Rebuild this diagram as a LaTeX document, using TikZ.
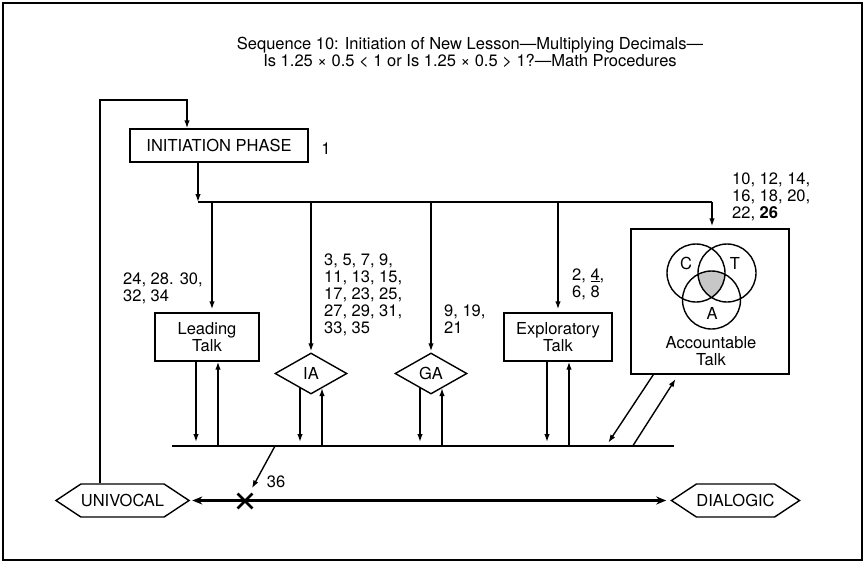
\documentclass[tikz,border=0pt]{standalone}
\usepackage{fontspec}
\setmainfont{TeX Gyre Heros}
\usetikzlibrary{shapes.geometric,shapes.symbols,shapes.misc,arrows.meta,calc}
\begin{document}
\begin{tikzpicture}[x=1pt,y=-1pt,
  every node/.style={font=\fontsize{16.5}{17}\selectfont},
  lw/.style={line width=1.4pt},
  arr/.style={lw,-{Latex[length=8pt,width=5.5pt]}},
  boxnode/.style={draw,lw,rectangle,inner sep=0pt,align=center},
  dia/.style={draw,lw,diamond,inner sep=0pt,minimum width=72pt,minimum height=41pt,aspect=1.75},
  hexa/.style={draw,lw,signal,signal to=west and east,signal pointer angle=67,inner xsep=0pt,inner ysep=0pt,minimum height=33pt},
  lbl/.style={inner sep=0pt,align=left,anchor=west},
  plain/.style={inner sep=0pt},
]
\useasboundingbox (0,0) rectangle (865,563);
\draw[line width=1.3pt] (3,3) rectangle (862,560);

% title
\node[plain,align=center,font=\fontsize{16.5}{14}\selectfont] (title) at (470,52)
  {Sequence 10: Initiation of New Lesson—Multiplying Decimals—\\Is 1.25 × 0.5 < 1 or Is 1.25 × 0.5 > 1?—Math Procedures};

% nodes
\node[boxnode,minimum width=178pt,minimum height=33pt] (init) at (219,145.5) {INITIATION PHASE};
\node[plain] (one) at (326,149) {1};
\node[boxnode,minimum width=104pt,minimum height=48pt] (lead) at (207,337) {Leading\\Talk};
\node[boxnode,minimum width=108pt,minimum height=48pt] (expl) at (558,337) {Exploratory\\Talk};
\node[dia] (ia) at (311,373.5) {IA};
\node[dia] (ga) at (431,373.5) {GA};
\node[boxnode,minimum width=158pt,minimum height=145pt] (acc) at (710,301.5) {};
\node[plain,align=center] (acctext) at (711,351) {Accountable\\Talk};
\node[hexa] (uni) at (122.5,500.5) {UNIVOCAL};
\node[hexa] (dia) at (735.5,500.5) {DIALOGIC};

% venn
\begin{scope}
  \clip (696,273) circle (29pt);
  \clip (727,273) circle (29pt);
  \fill[black!22] (711.5,300) circle (29pt);
\end{scope}
\draw[lw] (696,273) circle (29pt) (727,273) circle (29pt) (711.5,300) circle (29pt);
\node[plain] (vc) at (686,263) {C};
\node[plain] (vt) at (735,263) {T};
\node[plain] (va) at (712,313) {A};

% labels
\node[lbl] (l24) at (123,288.5) {24, 28. 30,\\32, 34};
\node[lbl] (l3) at (324,294.5) {3, 5, 7, 9,\\11, 13, 15,\\17, 23, 25,\\27, 29, 31,\\33, 35};
\node[lbl] (l9) at (444,319.5) {9, 19,\\21};
\node[lbl] (l2) at (572,284) {2, \underline{4},\\6, 8};
\node[lbl] (l10) at (732,197) {10, 12, 14,\\16, 18, 20,\\22, \textbf{26}};
\node[plain] (l36) at (276,482) {36};

% loop
\coordinate (loopx) at (100,100);
\coordinate (lc) at (187,100);
\draw[arr] (uni.north -| loopx) -- (loopx) -- (lc) -- (lc |- init.north);

% distribution line
\coordinate (hl) at (198,202);
\coordinate (hr) at (712,202);
\draw[arr] (init.south -| hl) -- (hl);
\draw[lw] (hl) -- (hr);
\draw[arr,shorten >=2pt] (hr) -- (hr |- acc.north);
\coordinate (ldrop) at ($(lead.north)+(5,0)$);
\draw[arr,shorten >=3pt] (ldrop |- hl) -- (ldrop);
\draw[arr,shorten >=1pt] (ia.north |- hl) -- (ia.north);
\draw[arr,shorten >=1pt] (ga.north |- hl) -- (ga.north);
\draw[arr,shorten >=3pt] (expl.north |- hl) -- (expl.north);

% bottom line
\coordinate (bl) at (172,446);
\coordinate (br) at (674,446);
\draw[lw] (bl) -- (br);
\coordinate (ld) at ($(lead.south)+(-11,0)$);
\coordinate (lu) at ($(lead.south)+(11,0)$);
\draw[arr,shorten >=4pt] (ld) -- (ld |- bl);
\draw[arr] (lu |- bl) -- (lu);
\coordinate (iad) at ($(ia.center)+(-11,0)$);
\coordinate (iau) at ($(ia.center)+(11,0)$);
\draw[arr,shorten >=4pt] (iad |- ia.232) -- (iad |- bl);
\draw[arr] (iau |- bl) -- (iau |- ia.308);
\coordinate (gad) at ($(ga.center)+(-11,0)$);
\coordinate (gau) at ($(ga.center)+(11,0)$);
\draw[arr,shorten >=4pt] (gad |- ga.232) -- (gad |- bl);
\draw[arr] (gau |- bl) -- (gau |- ga.308);
\coordinate (ed) at ($(expl.south)+(-11,0)$);
\coordinate (eu) at ($(expl.south)+(11,0)$);
\draw[arr,shorten >=4pt] (ed) -- (ed |- bl);
\draw[arr] (eu |- bl) -- (eu);
\coordinate (a1) at ($(acc.south west)+(23,0)$);
\coordinate (a2) at ($(acc.south west)+(48,0)$);
\draw[arr] (a1) -- ($(a1)+(-45,68)$);
\draw[arr,shorten >=5pt] ($(a2)+(-46,72)$) -- (a2);

% continuum
\draw[line width=2.6pt,{Stealth[length=10pt,width=8pt]}-{Stealth[length=10pt,width=8pt]},shorten <=2pt,shorten >=4pt] (uni.east) -- (dia.west);
\node[cross out,draw,line width=2.8pt,minimum size=12pt,inner sep=0pt] (xm) at (245,501) {};
\coordinate (c36) at (275,446);
\draw[arr,shorten >=6pt] (c36) -- (xm);
\end{tikzpicture}
\end{document}
